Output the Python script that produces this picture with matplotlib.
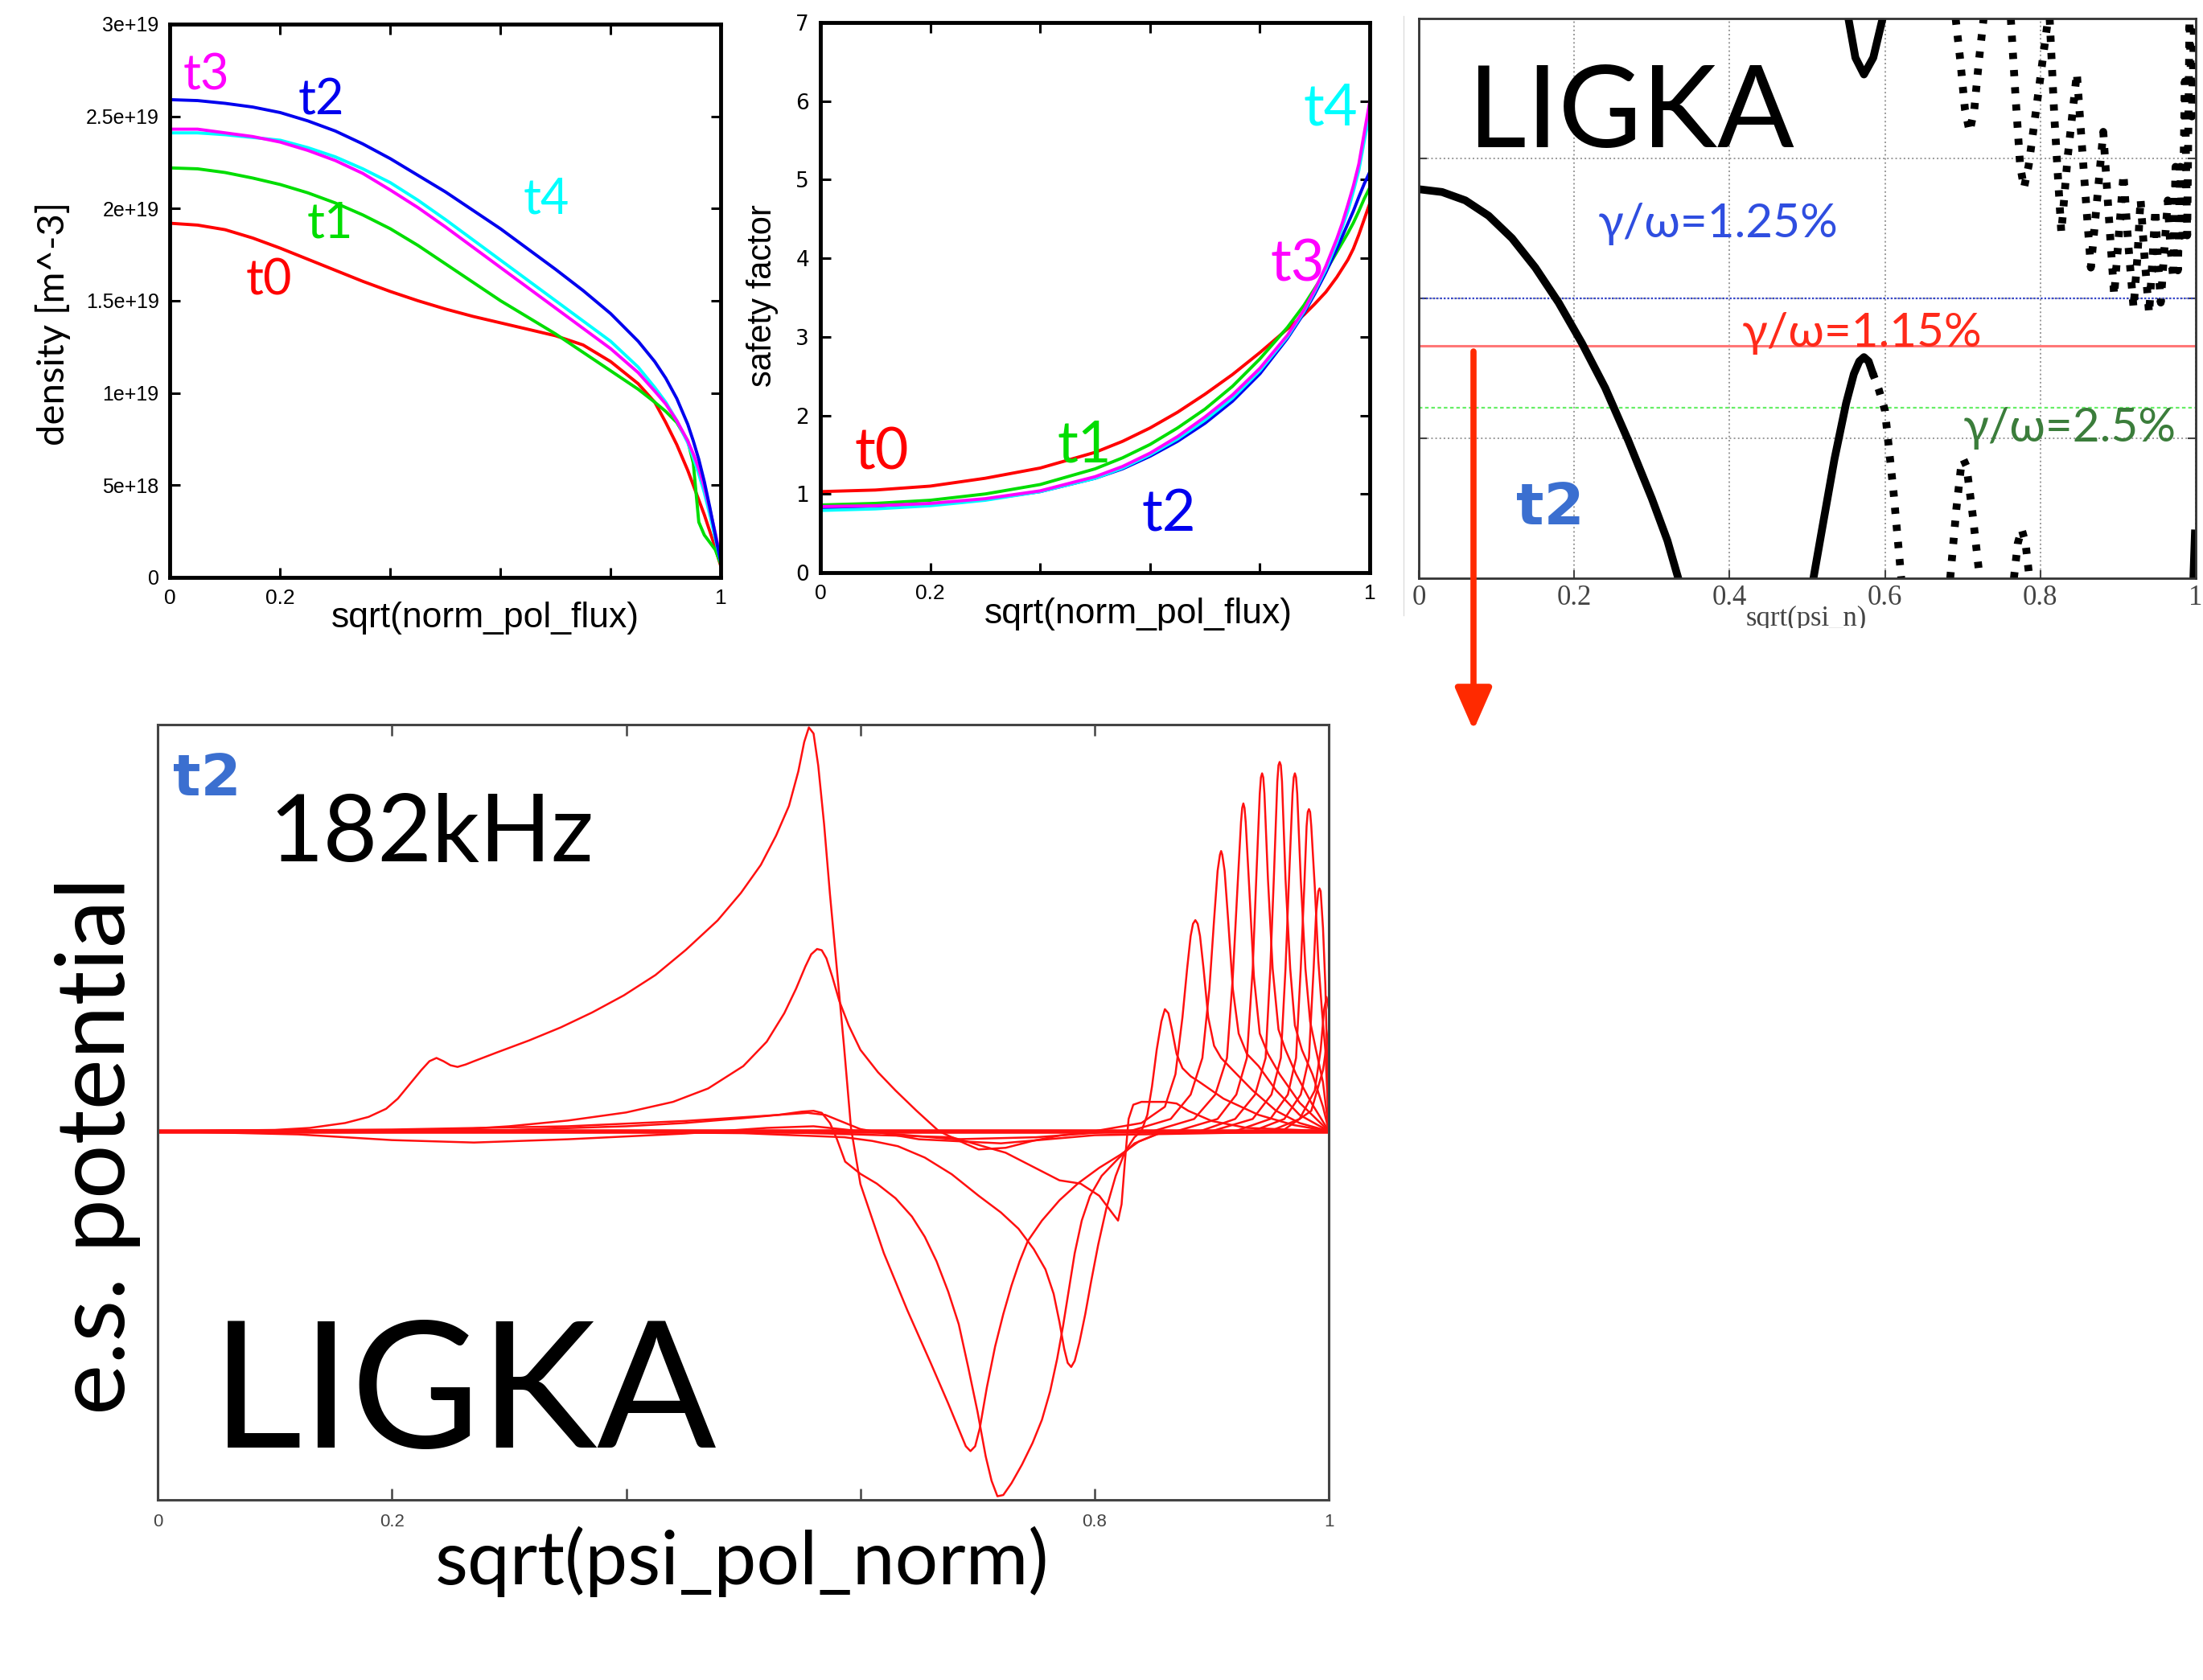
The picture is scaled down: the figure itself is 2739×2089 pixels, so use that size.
import matplotlib
matplotlib.use('Agg')
import matplotlib.pyplot as plt
from matplotlib import font_manager
from matplotlib.patches import FancyArrowPatch
from matplotlib.lines import Line2D
from matplotlib.transforms import Bbox, TransformedBbox

# pick a condensed sans for the profile plots if there is one
names = {f.name for f in font_manager.fontManager.ttflist}
narrow = 'Liberation Sans Narrow' if 'Liberation Sans Narrow' in names else 'Liberation Sans'
humanist = ['Lato', 'DejaVu Sans']

# ---- density profiles, units of 1e19 m^-3 ----
rho_dens = [0, 0.05, 0.1, 0.15, 0.2, 0.25, 0.3, 0.35, 0.4, 0.45, 0.5, 0.55, 0.6, 0.65, 0.7, 0.75, 0.8, 0.85,
            0.88, 0.9, 0.92, 0.94, 0.95, 0.96, 0.97, 0.98, 0.99, 1.0]
dens_t0 = [1.92, 1.91, 1.885, 1.84, 1.785, 1.725, 1.665, 1.605, 1.55, 1.50, 1.455, 1.415, 1.38, 1.345, 1.31, 1.26,
           1.17, 1.05, 0.95, 0.84, 0.72, 0.58, 0.50, 0.42, 0.34, 0.25, 0.16, 0.06]
dens_t1 = [2.22, 2.215, 2.195, 2.165, 2.13, 2.085, 2.03, 1.965, 1.89, 1.80, 1.70, 1.60, 1.50, 1.41, 1.32, 1.22,
           1.12, 1.02, 0.95, 0.90, 0.84, 0.74, 0.62, 0.30, 0.23, 0.19, 0.15, 0.07]
dens_t2 = [2.59, 2.585, 2.57, 2.55, 2.52, 2.475, 2.42, 2.35, 2.27, 2.18, 2.09, 1.99, 1.89, 1.78, 1.67, 1.555,
           1.43, 1.28, 1.17, 1.08, 0.97, 0.83, 0.74, 0.64, 0.52, 0.38, 0.23, 0.08]
dens_t3 = [2.43, 2.43, 2.41, 2.39, 2.36, 2.315, 2.26, 2.19, 2.10, 2.005, 1.90, 1.79, 1.68, 1.57, 1.46, 1.35,
           1.24, 1.11, 1.01, 0.94, 0.85, 0.74, 0.67, 0.59, 0.49, 0.37, 0.24, 0.10]
dens_t4 = [2.41, 2.41, 2.40, 2.385, 2.37, 2.33, 2.28, 2.215, 2.14, 2.045, 1.94, 1.83, 1.72, 1.61, 1.50, 1.39,
           1.28, 1.14, 1.03, 0.95, 0.85, 0.73, 0.65, 0.56, 0.46, 0.34, 0.21, 0.08]

# ---- safety factor profiles ----
rho_q = [0, 0.1, 0.2, 0.3, 0.4, 0.5, 0.55, 0.6, 0.65, 0.7, 0.75, 0.8, 0.85, 0.88, 0.9, 0.92, 0.94, 0.95, 0.96,
         0.97, 0.98, 0.99, 1.0]
q_t0 = [1.03, 1.05, 1.10, 1.20, 1.33, 1.53, 1.67, 1.84, 2.04, 2.27, 2.52, 2.80, 3.10, 3.28, 3.42, 3.57, 3.76,
        3.87, 3.98, 4.12, 4.30, 4.50, 4.70]
q_t1 = [0.86, 0.88, 0.92, 1.00, 1.12, 1.32, 1.46, 1.63, 1.84, 2.08, 2.37, 2.72, 3.12, 3.40, 3.62, 3.84, 4.08,
        4.20, 4.32, 4.45, 4.60, 4.76, 4.90]
q_t2 = [0.82, 0.84, 0.87, 0.93, 1.03, 1.20, 1.32, 1.48, 1.67, 1.90, 2.18, 2.53, 2.98, 3.30, 3.55, 3.82, 4.12,
        4.28, 4.44, 4.60, 4.78, 4.95, 5.10]
q_t3 = [0.84, 0.85, 0.88, 0.94, 1.04, 1.22, 1.35, 1.52, 1.73, 1.98, 2.26, 2.60, 3.02, 3.34, 3.60, 3.90, 4.25,
        4.45, 4.68, 4.92, 5.20, 5.60, 6.00]
q_t4 = [0.79, 0.81, 0.85, 0.92, 1.03, 1.20, 1.33, 1.50, 1.70, 1.94, 2.22, 2.57, 3.00, 3.32, 3.58, 3.86, 4.20,
        4.40, 4.60, 4.85, 5.12, 5.50, 5.85]

labels_t = ['t0', 't1', 't2', 't3', 't4']
colors_t = ['#ff0000', '#00dd00', '#0000ee', '#ff00ff', '#00ffff']

# ---- LIGKA continuum branches (arbitrary frequency units 0..4) ----
br_a_x = [0, 0.03, 0.06, 0.09, 0.12, 0.15, 0.18, 0.21, 0.24, 0.27, 0.3, 0.32, 0.334]
br_a_y = [2.78, 2.76, 2.70, 2.59, 2.43, 2.22, 1.97, 1.68, 1.36, 0.98, 0.57, 0.27, 0.0]
br_b_x = [0.508, 0.52, 0.535, 0.55, 0.56, 0.567, 0.573, 0.579, 0.584]
br_b_y = [0.0, 0.38, 0.85, 1.25, 1.46, 1.55, 1.58, 1.55, 1.47]
br_b2_x = [0.584, 0.592, 0.6, 0.611, 0.621]
br_b2_y = [1.47, 1.35, 1.2, 0.62, 0.0]
br_c_x = [0.684, 0.692, 0.698, 0.701, 0.705, 0.713, 0.722]
br_c_y = [0.0, 0.5, 0.8, 0.85, 0.8, 0.45, 0.0]
br_d_x = [0.766, 0.771, 0.776, 0.781, 0.786]
br_d_y = [0.0, 0.25, 0.35, 0.25, 0.0]
br_e_x = [0.553, 0.562, 0.573, 0.585, 0.597]
br_e_y = [4.0, 3.72, 3.6, 3.72, 4.0]
br_f_x = [0.691, 0.697, 0.703, 0.709, 0.715, 0.721, 0.727]
br_f_y = [4.0, 3.7, 3.35, 3.19, 3.35, 3.7, 4.0]
br_g_x = [0.762, 0.768, 0.774, 0.779, 0.785, 0.797, 0.81]
br_g_y = [4.0, 3.45, 2.95, 2.79, 2.95, 3.45, 4.0]
br_h_x = [0.812, 0.818, 0.827, 0.835, 0.847, 0.856, 0.865, 0.873, 0.881, 0.888, 0.895, 0.901, 0.907,
          0.913, 0.920, 0.925, 0.929, 0.934, 0.940, 0.944, 0.948, 0.951, 0.955, 0.959, 0.964, 0.967,
          0.971, 0.974, 0.977, 0.980, 0.983, 0.986, 0.989, 0.992, 0.995, 0.998]
br_h_y = [4.0, 3.3, 2.47, 3.0, 3.61, 2.9, 2.22, 2.7, 3.19, 2.6, 2.02, 2.45, 2.89,
          2.4, 1.93, 2.3, 2.71, 2.3, 1.89, 2.25, 2.64, 2.3, 1.97, 2.3, 2.70, 2.4,
          2.14, 2.94, 2.2, 2.94, 2.45, 3.55, 2.45, 3.99, 3.3, 4.0]
br_i_x = [0.997, 0.999]
br_i_y = [0.0, 0.32]
gamma_lines = [2.0, 1.66, 1.22]
gamma_text = ['γ/ω=1.25%', 'γ/ω=1.15%', 'γ/ω=2.5%']

# ---- e.s. potential harmonics at 182 kHz ----
phi_a_x = [0.0, 0.10, 0.13, 0.16, 0.18, 0.195, 0.205, 0.215, 0.225, 0.232, 0.238, 0.244, 0.25, 0.256, 0.263,
           0.27, 0.29, 0.317, 0.344, 0.371, 0.398, 0.425, 0.451, 0.478, 0.498, 0.515, 0.528, 0.539, 0.547, 0.552,
           0.556, 0.56, 0.564, 0.569, 0.574, 0.58, 0.586, 0.592, 0.6, 0.62, 0.64, 0.66, 0.675, 0.685, 0.69,
           0.694, 0.698, 0.702, 0.708, 0.715, 0.722, 0.729, 0.736, 0.743, 0.755, 0.77, 0.786, 0.804, 0.822,
           0.838, 0.855, 0.88, 1.0]
phi_a_y = [0.0, 0.003, 0.008, 0.02, 0.035, 0.055, 0.08, 0.115, 0.15, 0.172, 0.18, 0.172, 0.162, 0.158, 0.164,
           0.172, 0.194, 0.223, 0.255, 0.292, 0.334, 0.384, 0.446, 0.518, 0.586, 0.655, 0.727, 0.8, 0.885, 0.957,
           0.993, 0.978, 0.899, 0.755, 0.583, 0.396, 0.209, 0.007, -0.13, -0.3, -0.44, -0.57, -0.67, -0.74,
           -0.775, -0.787, -0.775, -0.73, -0.63, -0.53, -0.45, -0.38, -0.32, -0.27, -0.22, -0.17, -0.128, -0.09,
           -0.058, -0.025, -0.005, 0.0, 0.0]
phi_b_x = [0.0, 0.25, 0.3, 0.35, 0.4, 0.44, 0.47, 0.5, 0.52, 0.535, 0.545, 0.553, 0.558, 0.563, 0.567, 0.571,
           0.576, 0.582, 0.59, 0.6, 0.615, 0.63, 0.648, 0.667, 0.689, 0.701, 0.724, 0.747, 0.77, 0.8, 1.0]
phi_b_y = [0.0, 0.003, 0.012, 0.026, 0.046, 0.072, 0.105, 0.16, 0.22, 0.29, 0.35, 0.405, 0.435, 0.448, 0.445,
           0.425, 0.38, 0.32, 0.26, 0.2, 0.145, 0.1, 0.05, 0.0, -0.03, -0.045, -0.041, -0.024, -0.011, 0.0, 0.0]
phi_c_x = [0.0, 0.3, 0.4, 0.45, 0.5, 0.53, 0.55, 0.56, 0.567, 0.574, 0.58, 0.587, 0.6, 0.614, 0.63, 0.644,
           0.655, 0.665, 0.675, 0.684, 0.692, 0.7, 0.707, 0.712, 0.717, 0.722, 0.729, 0.738, 0.747, 0.755, 0.762,
           0.768, 0.773, 0.778, 0.783, 0.789, 0.796, 0.806, 0.82, 0.834, 0.86, 1.0]
phi_c_y = [0.0, 0.003, 0.012, 0.02, 0.032, 0.04, 0.048, 0.05, 0.045, 0.02, -0.02, -0.075, -0.105, -0.129,
           -0.165, -0.21, -0.26, -0.32, -0.395, -0.475, -0.58, -0.69, -0.8, -0.86, -0.898, -0.895, -0.866, -0.82,
           -0.767, -0.71, -0.64, -0.56, -0.48, -0.39, -0.3, -0.22, -0.16, -0.11, -0.068, -0.03, 0.0, 0.0]
phi_d_x = [0.0, 0.3, 0.5, 0.5865, 0.61, 0.632, 0.655, 0.678, 0.701, 0.72, 0.735, 0.748, 0.758, 0.765, 0.77,
           0.774, 0.777, 0.78, 0.783, 0.787, 0.792, 0.797, 0.803, 0.81, 0.818, 0.826, 0.834, 0.84, 0.845, 0.849,
           0.853, 0.857, 0.86, 0.863, 0.866, 0.87, 0.875, 0.882, 0.89, 0.91, 0.94, 0.97, 1.0]
phi_d_y = [0.0, 0.0, -0.005, -0.015, -0.024, -0.037, -0.065, -0.106, -0.159, -0.2, -0.24, -0.29, -0.34, -0.4,
           -0.47, -0.535, -0.57, -0.58, -0.565, -0.52, -0.45, -0.37, -0.28, -0.19, -0.11, -0.05, -0.015, 0.0,
           0.04, 0.11, 0.2, 0.27, 0.3, 0.29, 0.25, 0.19, 0.155, 0.135, 0.12, 0.08, 0.04, 0.015, 0.0]
phi_e_x = [0.0, 0.5, 0.678, 0.724, 0.77, 0.788, 0.804, 0.816, 0.82, 0.823, 0.826, 0.829, 0.833, 0.84, 0.86, 0.87,
           0.88, 0.9, 0.93, 1.0]
phi_e_y = [0.0, 0.0, -0.015, -0.053, -0.121, -0.129, -0.159, -0.205, -0.22, -0.18, -0.07, 0.03, 0.065, 0.072,
           0.072, 0.068, 0.05, 0.025, 0.008, 0.0]
phi_f_x = [0.0, 0.12, 0.2, 0.27, 0.35, 0.45, 0.52, 0.56, 0.6, 0.68, 0.75, 0.82, 1.0]
phi_f_y = [0.0, -0.008, -0.022, -0.028, -0.02, -0.006, 0.008, 0.012, 0.0, -0.02, -0.015, 0.0, 0.0]
phi_g_x = [0.0, 0.2, 0.35, 0.45, 0.52, 0.555, 0.57, 0.6, 0.65, 0.72, 0.8, 1.0]
phi_g_y = [0.0, 0.004, 0.012, 0.025, 0.038, 0.045, 0.04, 0.005, -0.02, -0.03, -0.01, 0.0]
phi_zero_x = [0.0, 1.0]
phi_zero_y = [0.0, 0.0]

# edge harmonics, one (x, y) list pair each
edge_x = [
    [0.80, 0.84, 0.86, 0.869, 0.875, 0.879, 0.882, 0.884, 0.886, 0.888, 0.890, 0.893, 0.897, 0.902, 0.908, 0.918,
     0.935, 0.955, 0.975, 1.0],
    [0.83, 0.865, 0.882, 0.892, 0.898, 0.902, 0.905, 0.907, 0.908, 0.909, 0.911, 0.914, 0.918, 0.923, 0.93, 0.94,
     0.955, 0.975, 1.0],
    [0.85, 0.885, 0.903, 0.913, 0.918, 0.922, 0.925, 0.926, 0.927, 0.928, 0.929, 0.932, 0.936, 0.941, 0.948, 0.958,
     0.975, 1.0],
    [0.87, 0.905, 0.921, 0.93, 0.935, 0.938, 0.941, 0.942, 0.943, 0.944, 0.945, 0.948, 0.952, 0.957, 0.963, 0.972,
     0.985, 1.0],
    [0.89, 0.92, 0.937, 0.946, 0.95, 0.953, 0.956, 0.957, 0.958, 0.959, 0.960, 0.963, 0.967, 0.971, 0.977, 0.986,
     0.995, 1.0],
    [0.90, 0.935, 0.951, 0.959, 0.963, 0.966, 0.969, 0.970, 0.971, 0.972, 0.973, 0.976, 0.980, 0.984, 0.989, 0.995,
     1.0],
    [0.92, 0.95, 0.965, 0.972, 0.976, 0.979, 0.981, 0.982, 0.983, 0.984, 0.985, 0.988, 0.991, 0.994, 0.997, 1.0],
    [0.935, 0.962, 0.976, 0.983, 0.987, 0.989, 0.991, 0.992, 0.993, 0.995, 0.997, 1.0],
    [0.95, 0.975, 0.988, 0.993, 0.996, 0.998, 1.0],
    [0.96, 0.985, 0.995, 1.0],
]
edge_y = [
    [0.0, 0.02, 0.06, 0.14, 0.28, 0.40, 0.48, 0.51, 0.519, 0.51, 0.48, 0.40, 0.28, 0.21, 0.18, 0.15, 0.10, 0.05,
     0.02, 0.0],
    [0.0, 0.03, 0.09, 0.18, 0.35, 0.52, 0.64, 0.68, 0.689, 0.68, 0.64, 0.52, 0.35, 0.24, 0.19, 0.16, 0.10, 0.04, 0.0],
    [0.0, 0.03, 0.09, 0.18, 0.38, 0.6, 0.76, 0.795, 0.806, 0.795, 0.76, 0.6, 0.38, 0.24, 0.19, 0.14, 0.07, 0.0],
    [0.0, 0.03, 0.09, 0.18, 0.4, 0.62, 0.83, 0.87, 0.88, 0.87, 0.83, 0.62, 0.4, 0.25, 0.2, 0.14, 0.07, 0.0],
    [0.0, 0.03, 0.09, 0.18, 0.4, 0.62, 0.86, 0.9, 0.908, 0.9, 0.86, 0.62, 0.4, 0.26, 0.2, 0.14, 0.06, 0.0],
    [0.0, 0.03, 0.09, 0.18, 0.4, 0.62, 0.83, 0.87, 0.88, 0.87, 0.83, 0.62, 0.4, 0.27, 0.2, 0.12, 0.0],
    [0.0, 0.03, 0.09, 0.18, 0.4, 0.6, 0.75, 0.785, 0.792, 0.785, 0.75, 0.6, 0.42, 0.3, 0.2, 0.0],
    [0.0, 0.03, 0.09, 0.18, 0.4, 0.53, 0.59, 0.597, 0.59, 0.5, 0.36, 0.0],
    [0.0, 0.03, 0.1, 0.2, 0.3, 0.33, 0.3],
    [0.0, 0.05, 0.15, 0.25],
]

fig = plt.figure(figsize=(27.39, 20.89), dpi=100)
fig.patch.set_facecolor('white')


def profile_axes(ax):
    ax.set_xlim(0, 1)
    ax.set_xticks([0, 0.2, 0.4, 0.6, 0.8, 1.0])
    ax.set_xticklabels(['0', '0.2', '', '', '', '1'], fontfamily=narrow, fontsize=19)
    ax.tick_params(direction='in', top=True, right=True, length=9, width=2.2, pad=10)
    for s in ax.spines.values():
        s.set_linewidth(3.5)
        s.set_color('black')


def axis_title(ax, x, y, s, rot=0, **kw):
    ax.text(x, y, s, transform=ax.transAxes, rotation=rot, ha='center', va='center', **kw)


# density
ax1 = fig.add_axes([0.0772, 0.6563, 0.2500, 0.3294])
for dens, c in zip([dens_t0, dens_t1, dens_t4, dens_t3, dens_t2],
                   [colors_t[0], colors_t[1], colors_t[4], colors_t[3], colors_t[2]]):
    ax1.plot(rho_dens, [v * 1e19 for v in dens], color=c, lw=2.8)
profile_axes(ax1)
ax1.set_ylim(0, 3e19)
ax1.set_yticks([0, 0.5e19, 1e19, 1.5e19, 2e19, 2.5e19, 3e19])
ax1.set_yticklabels(['0', '5e+18', '1e+19', '1.5e+19', '2e+19', '2.5e+19', '3e+19'], fontfamily=narrow, fontsize=18)
axis_title(ax1, 0.572, -0.074, 'sqrt(norm_pol_flux)', fontfamily=narrow, fontsize=32)
axis_title(ax1, -0.213, 0.459, 'density [m^-3]', rot=90, family=humanist, fontsize=34)
dens_lab_x = [0.18, 0.29, 0.274, 0.066, 0.683]
dens_lab_y = [1.61e19, 1.92e19, 2.586e19, 2.72e19, 2.05e19]
for lx, ly, t, c in zip(dens_lab_x, dens_lab_y, labels_t, colors_t):
    ax1.text(lx, ly, t, color=c, fontsize=44, family=humanist, ha='center', va='center')

# safety factor
ax2 = fig.add_axes([0.3724, 0.6592, 0.2494, 0.3274])
for q, c in zip([q_t0, q_t1, q_t2, q_t4, q_t3], [colors_t[0], colors_t[1], colors_t[2], colors_t[4], colors_t[3]]):
    ax2.plot(rho_q, q, color=c, lw=2.8)
profile_axes(ax2)
ax2.set_ylim(0, 7)
ax2.set_yticks(range(8))
ax2.set_yticklabels([str(i) for i in range(8)], fontsize=19)
axis_title(ax2, 0.578, -0.075, 'sqrt(norm_pol_flux)', fontfamily=narrow, fontsize=32)
axis_title(ax2, -0.105, 0.504, 'safety factor', rot=90, fontfamily=narrow, fontsize=30)
q_lab_x = [0.111, 0.481, 0.634, 0.869, 0.928]
q_lab_y = [1.52, 1.62, 0.74, 3.92, 5.9]
for lx, ly, t, c in zip(q_lab_x, q_lab_y, labels_t, colors_t):
    ax2.text(lx, ly, t, color=c, fontsize=52, family=humanist, ha='center', va='center')

# LIGKA continuum / damping
ax3 = fig.add_axes([0.644, 0.6558, 0.3527, 0.3332])
ax3.set_xlim(0, 1)
ax3.set_ylim(0, 4)
ax3.set_xticks([0, 0.2, 0.4, 0.6, 0.8, 1.0])
ax3.set_xticklabels(['0', '0.2', '0.4', '0.6', '0.8', '1'], fontfamily='Liberation Serif', fontsize=25, color='#444')
ax3.set_yticks([1, 2, 3])
ax3.set_yticklabels([])
ax3.tick_params(direction='in', top=False, right=True, length=7, width=1.5, pad=6, colors='#444')
ax3.grid(True, color='#999999', ls=':', lw=1.4)
for s in ax3.spines.values():
    s.set_linewidth(2)
    s.set_color('#333333')
ax3.axhline(gamma_lines[0], color='#3344cc', ls=(0, (1, 1)), lw=1.6)
ax3.axhline(gamma_lines[1], color='#ff7777', lw=2.2)
ax3.axhline(gamma_lines[2], color='#66ee66', ls=(0, (2, 1.5)), lw=1.6)
dots = dict(color='black', lw=7, ls=(0, (0.8, 1.4)), dash_capstyle='butt')
ax3.plot(br_a_x, br_a_y, color='black', lw=7)
ax3.plot(br_b_x, br_b_y, color='black', lw=7)
ax3.plot(br_b2_x, br_b2_y, **dots)
ax3.plot(br_c_x, br_c_y, **dots)
ax3.plot(br_d_x, br_d_y, **dots)
ax3.plot(br_e_x, br_e_y, color='black', lw=7)
ax3.plot(br_f_x, br_f_y, **dots)
ax3.plot(br_g_x, br_g_y, **dots)
ax3.plot(br_h_x, br_h_y, **dots)
ax3.plot(br_i_x, br_i_y, color='black', lw=7)
ax3.text(0.273, 3.31, 'LIGKA', family=humanist, fontsize=102, ha='center', va='center')
gamma_pos_x = [0.385, 0.571, 0.838]
gamma_pos_y = [2.53, 1.75, 1.07]
gamma_col = ['#2f4ee0', '#ff2a1a', '#3b7d3b']
for gx, gy, t, c in zip(gamma_pos_x, gamma_pos_y, gamma_text, gamma_col):
    ax3.text(gx, gy, t, color=c, family=humanist, fontsize=42, ha='center', va='center')
ax3.text(0.169, 0.5, 't2', color='#3b6fd0', fontweight='bold', family='DejaVu Sans', fontsize=52,
         ha='center', va='center')
xl = fig.text(2246 / 2739, 1 - 769 / 2089, 'sqrt(psi_n)', family='Liberation Serif', fontsize=25,
              color='#444', ha='center', va='center')
xl.set_clip_box(TransformedBbox(Bbox([[0.5, 1 - 781 / 2089], [1, 1]]), fig.transFigure))
xl.set_clip_on(True)

# e.s. potential
ax4 = fig.add_axes([0.0716, 0.1072, 0.5316, 0.4615])
red = '#ff1010'
ax4.plot(phi_zero_x, phi_zero_y, color=red, lw=4)
for px, py in [(phi_f_x, phi_f_y), (phi_g_x, phi_g_y), (phi_b_x, phi_b_y), (phi_c_x, phi_c_y),
               (phi_d_x, phi_d_y), (phi_e_x, phi_e_y), (phi_a_x, phi_a_y)]:
    ax4.plot(px, py, color=red, lw=1.8)
for px, py in zip(edge_x, edge_y):
    ax4.plot(px, py, color=red, lw=1.8)
ax4.set_xlim(0, 1)
ax4.set_ylim(-0.907, 1.0)
ax4.set_xticks([0, 0.2, 0.4, 0.6, 0.8, 1.0])
ax4.set_xticklabels(['0', '0.2', '', '', '0.8', '1'], fontfamily=narrow, fontsize=16, color='#333')
ax4.set_yticks([])
ax4.tick_params(direction='in', top=True, length=10, width=1.8, pad=12, colors='#444')
for s in ax4.spines.values():
    s.set_linewidth(2.2)
    s.set_color('#444444')
axis_title(ax4, 0.4986, -0.08, 'sqrt(psi_pol_norm)', family=humanist, fontsize=68)
axis_title(ax4, -0.051, 0.457, 'e.s. potential', rot=90, family=humanist, fontsize=86)
ax4.text(0.042, 0.929, 't2', transform=ax4.transAxes, color='#3b6fd0', fontweight='bold',
         family='DejaVu Sans', fontsize=52, ha='center', va='center')
ax4.text(0.2335, 0.857, '182kHz', transform=ax4.transAxes, family=humanist, fontsize=84,
         ha='center', va='center')
ax4.text(0.262, 0.132, 'LIGKA', transform=ax4.transAxes, family=humanist, fontsize=158,
         ha='center', va='center')

# arrow from the growth-rate plot down to the eigenfunction
fig.add_artist(FancyArrowPatch((1832 / 2739, 1 - 437 / 2089), (1832 / 2739, 1 - 908 / 2089),
                               transform=fig.transFigure, arrowstyle='-|>,head_length=0.8,head_width=0.35',
                               mutation_scale=40, lw=5.5, color='#ff2a00', shrinkA=0, shrinkB=0))
# faint edge of the pasted panel
fig.add_artist(Line2D([1745 / 2739, 1745 / 2739], [1 - 20 / 2089, 1 - 765 / 2089],
                      transform=fig.transFigure, color='#dddddd', lw=1))

fig.savefig('out.png', dpi=100)
